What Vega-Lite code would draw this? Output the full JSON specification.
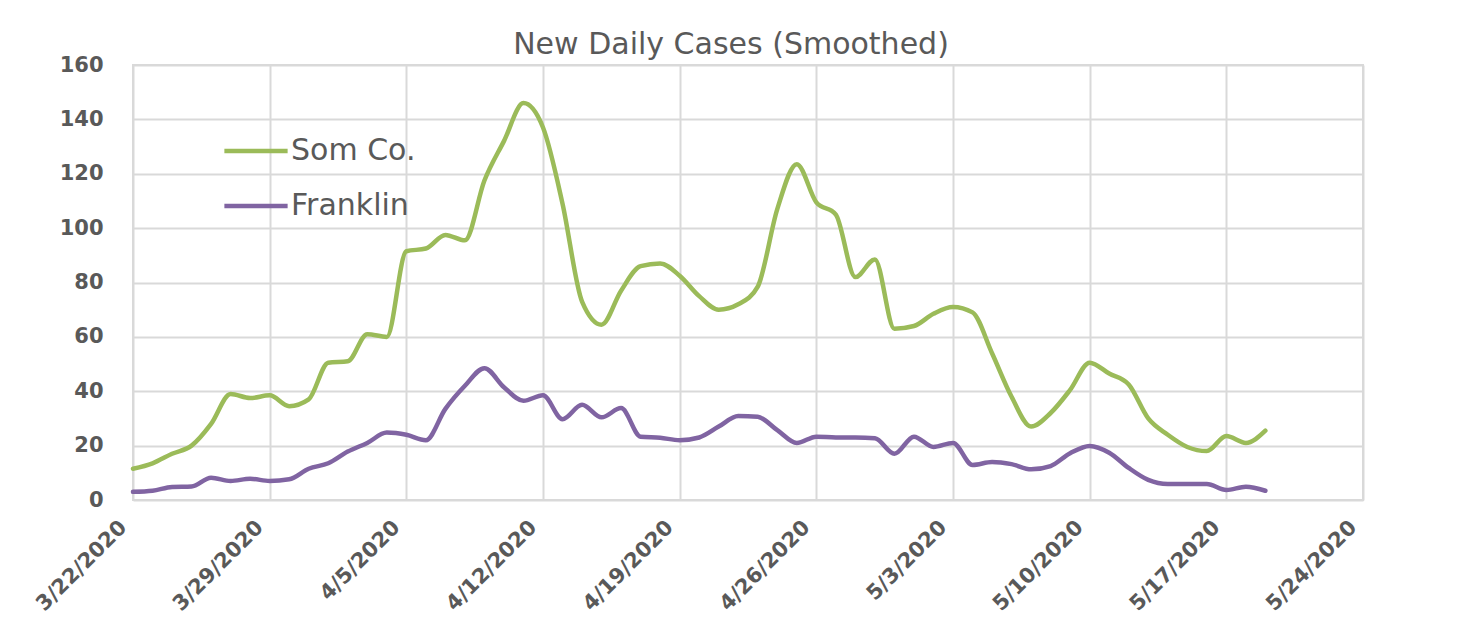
{
  "$schema": "https://vega.github.io/schema/vega-lite/v6.json",
  "width": 1230,
  "height": 435,
  "autosize": {"type": "none"},
  "padding": {"left": 133, "top": 65, "right": 103, "bottom": 118},
  "background": "white",
  "title": {
    "text": "New Daily Cases (Smoothed)",
    "font": "DejaVu Sans",
    "fontSize": 30,
    "fontWeight": "normal",
    "color": "#595959",
    "anchor": "middle",
    "dx": -17,
    "offset": -6
  },
  "config": {
    "view": {"stroke": "#d9d9d9", "strokeWidth": 2},
    "axis": {
      "labelFont": "DejaVu Sans",
      "labelFontWeight": "bold",
      "labelFontSize": 21,
      "labelColor": "#595959",
      "gridColor": "#d9d9d9",
      "gridWidth": 2,
      "gridOpacity": 1,
      "ticks": false,
      "domain": false,
      "title": null
    }
  },
  "data": {
    "values": [
      {"date": "2020/03/22", "series": "Som Co.", "value": 11.5},
      {"date": "2020/03/23", "series": "Som Co.", "value": 13.5},
      {"date": "2020/03/24", "series": "Som Co.", "value": 17},
      {"date": "2020/03/25", "series": "Som Co.", "value": 20},
      {"date": "2020/03/26", "series": "Som Co.", "value": 28},
      {"date": "2020/03/27", "series": "Som Co.", "value": 39},
      {"date": "2020/03/28", "series": "Som Co.", "value": 37.5},
      {"date": "2020/03/29", "series": "Som Co.", "value": 38.5},
      {"date": "2020/03/30", "series": "Som Co.", "value": 34.5},
      {"date": "2020/03/31", "series": "Som Co.", "value": 37},
      {"date": "2020/04/01", "series": "Som Co.", "value": 50.5},
      {"date": "2020/04/02", "series": "Som Co.", "value": 51},
      {"date": "2020/04/03", "series": "Som Co.", "value": 61},
      {"date": "2020/04/04", "series": "Som Co.", "value": 60},
      {"date": "2020/04/05", "series": "Som Co.", "value": 91.5},
      {"date": "2020/04/06", "series": "Som Co.", "value": 92.5},
      {"date": "2020/04/07", "series": "Som Co.", "value": 97.5},
      {"date": "2020/04/08", "series": "Som Co.", "value": 95.5},
      {"date": "2020/04/09", "series": "Som Co.", "value": 117.5},
      {"date": "2020/04/10", "series": "Som Co.", "value": 132},
      {"date": "2020/04/11", "series": "Som Co.", "value": 146},
      {"date": "2020/04/12", "series": "Som Co.", "value": 137},
      {"date": "2020/04/13", "series": "Som Co.", "value": 109},
      {"date": "2020/04/14", "series": "Som Co.", "value": 73},
      {"date": "2020/04/15", "series": "Som Co.", "value": 64.5},
      {"date": "2020/04/16", "series": "Som Co.", "value": 77},
      {"date": "2020/04/17", "series": "Som Co.", "value": 86},
      {"date": "2020/04/18", "series": "Som Co.", "value": 87},
      {"date": "2020/04/19", "series": "Som Co.", "value": 82.5},
      {"date": "2020/04/20", "series": "Som Co.", "value": 75},
      {"date": "2020/04/21", "series": "Som Co.", "value": 70},
      {"date": "2020/04/22", "series": "Som Co.", "value": 72},
      {"date": "2020/04/23", "series": "Som Co.", "value": 78.5},
      {"date": "2020/04/24", "series": "Som Co.", "value": 107},
      {"date": "2020/04/25", "series": "Som Co.", "value": 123.5},
      {"date": "2020/04/26", "series": "Som Co.", "value": 109.5},
      {"date": "2020/04/27", "series": "Som Co.", "value": 105},
      {"date": "2020/04/28", "series": "Som Co.", "value": 82},
      {"date": "2020/04/29", "series": "Som Co.", "value": 88.5},
      {"date": "2020/04/30", "series": "Som Co.", "value": 63},
      {"date": "2020/05/01", "series": "Som Co.", "value": 64},
      {"date": "2020/05/02", "series": "Som Co.", "value": 68.5},
      {"date": "2020/05/03", "series": "Som Co.", "value": 71},
      {"date": "2020/05/04", "series": "Som Co.", "value": 69},
      {"date": "2020/05/05", "series": "Som Co.", "value": 54},
      {"date": "2020/05/06", "series": "Som Co.", "value": 38},
      {"date": "2020/05/07", "series": "Som Co.", "value": 27},
      {"date": "2020/05/08", "series": "Som Co.", "value": 32},
      {"date": "2020/05/09", "series": "Som Co.", "value": 40.5},
      {"date": "2020/05/10", "series": "Som Co.", "value": 50.5},
      {"date": "2020/05/11", "series": "Som Co.", "value": 46.5},
      {"date": "2020/05/12", "series": "Som Co.", "value": 42.5},
      {"date": "2020/05/13", "series": "Som Co.", "value": 30},
      {"date": "2020/05/14", "series": "Som Co.", "value": 24},
      {"date": "2020/05/15", "series": "Som Co.", "value": 19.5},
      {"date": "2020/05/16", "series": "Som Co.", "value": 18},
      {"date": "2020/05/17", "series": "Som Co.", "value": 23.5},
      {"date": "2020/05/18", "series": "Som Co.", "value": 21},
      {"date": "2020/05/19", "series": "Som Co.", "value": 25.5},
      {"date": "2020/03/22", "series": "Franklin", "value": 3},
      {"date": "2020/03/23", "series": "Franklin", "value": 3.4},
      {"date": "2020/03/24", "series": "Franklin", "value": 4.8},
      {"date": "2020/03/25", "series": "Franklin", "value": 5},
      {"date": "2020/03/26", "series": "Franklin", "value": 8.2},
      {"date": "2020/03/27", "series": "Franklin", "value": 7},
      {"date": "2020/03/28", "series": "Franklin", "value": 7.8},
      {"date": "2020/03/29", "series": "Franklin", "value": 7},
      {"date": "2020/03/30", "series": "Franklin", "value": 7.6},
      {"date": "2020/03/31", "series": "Franklin", "value": 11.5},
      {"date": "2020/04/01", "series": "Franklin", "value": 13.5},
      {"date": "2020/04/02", "series": "Franklin", "value": 17.8},
      {"date": "2020/04/03", "series": "Franklin", "value": 21},
      {"date": "2020/04/04", "series": "Franklin", "value": 24.8},
      {"date": "2020/04/05", "series": "Franklin", "value": 24},
      {"date": "2020/04/06", "series": "Franklin", "value": 22},
      {"date": "2020/04/07", "series": "Franklin", "value": 33.5},
      {"date": "2020/04/08", "series": "Franklin", "value": 42},
      {"date": "2020/04/09", "series": "Franklin", "value": 48.5},
      {"date": "2020/04/10", "series": "Franklin", "value": 41.5},
      {"date": "2020/04/11", "series": "Franklin", "value": 36.5},
      {"date": "2020/04/12", "series": "Franklin", "value": 38.5},
      {"date": "2020/04/13", "series": "Franklin", "value": 29.7},
      {"date": "2020/04/14", "series": "Franklin", "value": 35},
      {"date": "2020/04/15", "series": "Franklin", "value": 30.4},
      {"date": "2020/04/16", "series": "Franklin", "value": 33.8},
      {"date": "2020/04/17", "series": "Franklin", "value": 23.3},
      {"date": "2020/04/18", "series": "Franklin", "value": 22.9},
      {"date": "2020/04/19", "series": "Franklin", "value": 22},
      {"date": "2020/04/20", "series": "Franklin", "value": 23},
      {"date": "2020/04/21", "series": "Franklin", "value": 27},
      {"date": "2020/04/22", "series": "Franklin", "value": 30.9},
      {"date": "2020/04/23", "series": "Franklin", "value": 30.6},
      {"date": "2020/04/24", "series": "Franklin", "value": 25.7},
      {"date": "2020/04/25", "series": "Franklin", "value": 21},
      {"date": "2020/04/26", "series": "Franklin", "value": 23.3},
      {"date": "2020/04/27", "series": "Franklin", "value": 23},
      {"date": "2020/04/28", "series": "Franklin", "value": 23},
      {"date": "2020/04/29", "series": "Franklin", "value": 22.7},
      {"date": "2020/04/30", "series": "Franklin", "value": 17},
      {"date": "2020/05/01", "series": "Franklin", "value": 23.3},
      {"date": "2020/05/02", "series": "Franklin", "value": 19.5},
      {"date": "2020/05/03", "series": "Franklin", "value": 21},
      {"date": "2020/05/04", "series": "Franklin", "value": 12.9},
      {"date": "2020/05/05", "series": "Franklin", "value": 14},
      {"date": "2020/05/06", "series": "Franklin", "value": 13.2},
      {"date": "2020/05/07", "series": "Franklin", "value": 11.3},
      {"date": "2020/05/08", "series": "Franklin", "value": 12.5},
      {"date": "2020/05/09", "series": "Franklin", "value": 17.2},
      {"date": "2020/05/10", "series": "Franklin", "value": 19.9},
      {"date": "2020/05/11", "series": "Franklin", "value": 17.4},
      {"date": "2020/05/12", "series": "Franklin", "value": 11.8},
      {"date": "2020/05/13", "series": "Franklin", "value": 7.4},
      {"date": "2020/05/14", "series": "Franklin", "value": 5.9},
      {"date": "2020/05/15", "series": "Franklin", "value": 5.9},
      {"date": "2020/05/16", "series": "Franklin", "value": 5.9},
      {"date": "2020/05/17", "series": "Franklin", "value": 3.7},
      {"date": "2020/05/18", "series": "Franklin", "value": 4.9},
      {"date": "2020/05/19", "series": "Franklin", "value": 3.4}
    ]
  },
  "mark": {"type": "line", "interpolate": "monotone", "strokeWidth": 4.5, "strokeCap": "round"},
  "encoding": {
    "x": {
      "field": "date",
      "type": "temporal",
      "scale": {"domain": [{"year": 2020, "month": 3, "date": 22}, {"year": 2020, "month": 5, "date": 24}]},
      "axis": {
        "values": [
          {"year": 2020, "month": 3, "date": 22},
          {"year": 2020, "month": 3, "date": 29},
          {"year": 2020, "month": 4, "date": 5},
          {"year": 2020, "month": 4, "date": 12},
          {"year": 2020, "month": 4, "date": 19},
          {"year": 2020, "month": 4, "date": 26},
          {"year": 2020, "month": 5, "date": 3},
          {"year": 2020, "month": 5, "date": 10},
          {"year": 2020, "month": 5, "date": 17},
          {"year": 2020, "month": 5, "date": 24}
        ],
        "format": "%-m/%-d/%Y",
        "labelAngle": -45,
        "labelAlign": "right",
        "labelBaseline": "middle",
        "labelPadding": 24,
        "labelOffset": -10,
        "labelFontSize": 21
      }
    },
    "y": {
      "field": "value",
      "type": "quantitative",
      "scale": {"domain": [0, 160], "nice": false},
      "axis": {"values": [0, 20, 40, 60, 80, 100, 120, 140, 160], "labelPadding": 30}
    },
    "color": {
      "field": "series",
      "type": "nominal",
      "scale": {"domain": ["Som Co.", "Franklin"], "range": ["#9BBB59", "#8064A2"]},
      "legend": {
        "title": null,
        "orient": "none",
        "legendX": 89,
        "legendY": 52,
        "direction": "vertical",
        "symbolType": "stroke",
        "symbolSize": 4000,
        "symbolStrokeWidth": 4.5,
        "labelFont": "DejaVu Sans",
        "labelFontSize": 30,
        "labelColor": "#595959",
        "labelOffset": 1,
        "rowPadding": 6
      }
    }
  }
}
